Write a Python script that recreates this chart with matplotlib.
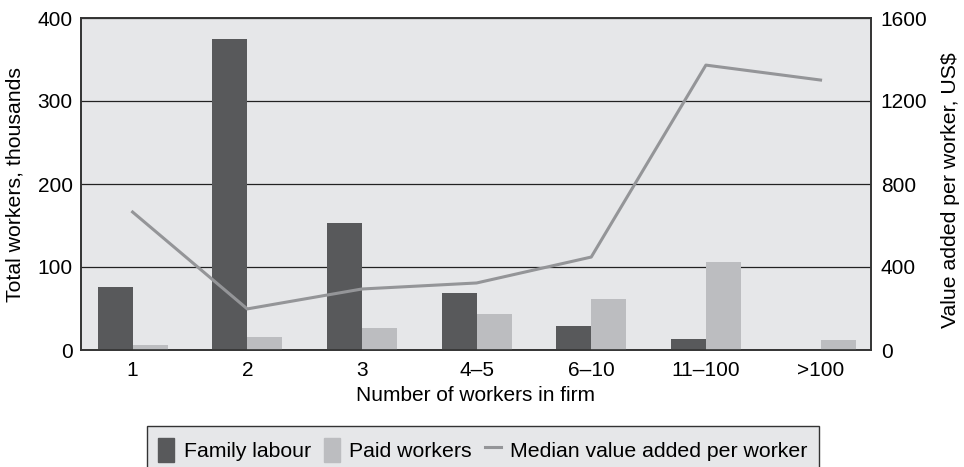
import matplotlib.pyplot as plt
from matplotlib.patches import Patch
from matplotlib.lines import Line2D
import numpy as np

plt.rcParams['font.family'] = ['Liberation Sans', 'DejaVu Sans']
plt.rcParams['font.size'] = 15

categories = ["1", "2", "3", "4\u20135", "6\u201310", "11\u2013100", ">100"]
family_labour = [76, 375, 153, 69, 29, 13, 0]
paid_workers = [6, 16, 27, 43, 61, 106, 12]
median_value = [665, 198, 294, 323, 448, 1373, 1301]

c_family = "#58595b"
c_paid = "#bcbdc0"
c_line = "#949598"
c_bg = "#e6e7e9"

fig = plt.figure(figsize=(9.64, 4.67), dpi=100)
ax = fig.add_axes([81/964, 1-350/467, 790/964, 332/467])
ax.set_facecolor(c_bg)

x = np.arange(len(categories))
w = 0.305
ax.bar(x - w/2, family_labour, w, color=c_family, zorder=3)
ax.bar(x + w/2, paid_workers, w, color=c_paid, zorder=3)

ax.set_ylim(0, 400)
ax.set_yticks([0, 100, 200, 300, 400])
ax.set_xlim(-0.45, 6.44)
ax.set_xticks(x)
ax.set_xticklabels(categories)
ax.yaxis.grid(True, color="#222222", linewidth=0.9, zorder=1)
ax.set_axisbelow(True)
ax.tick_params(axis="y", length=0, pad=6)
ax.tick_params(axis="x", length=0, pad=8)
ax.set_ylabel("Total workers, thousands", fontsize=15.3)
ax.yaxis.set_label_coords(-0.072, 0.5)
ax.set_xlabel("Number of workers in firm", labelpad=4)
for s in ax.spines.values():
    s.set_color("#333333")
    s.set_linewidth(1.2)

ax2 = ax.twinx()
ax2.plot(x, median_value, color=c_line, linewidth=2.2, zorder=4)
ax2.set_ylim(0, 1600)
ax2.set_yticks([0, 400, 800, 1200, 1600])
ax2.tick_params(axis="y", length=0, pad=7)
ax2.set_ylabel("Value added per worker, US$", fontsize=15.3)
ax2.yaxis.set_label_coords(1.0886, 0.482)
for s in ax2.spines.values():
    s.set_color("#333333")
    s.set_linewidth(1.2)

handles = [Patch(color=c_family, label="Family labour"),
           Patch(color=c_paid, label="Paid workers"),
           Line2D([0], [0], color=c_line, linewidth=2.2,
                  label="Median value added per worker")]
leg = fig.legend(handles=handles, loc="upper center", ncol=3,
                 bbox_to_anchor=(483/964, 1-426/467), frameon=True,
                 fancybox=False, edgecolor="#333333", facecolor=c_bg,
                 handlelength=0.75, handleheight=1.4, handletextpad=0.45,
                 columnspacing=0.6, borderpad=0.55, borderaxespad=0,
                 fontsize=15.3)
leg.get_frame().set_linewidth(1.0)
leg.get_frame().set_alpha(1)

fig.savefig("out.png", dpi=100)
